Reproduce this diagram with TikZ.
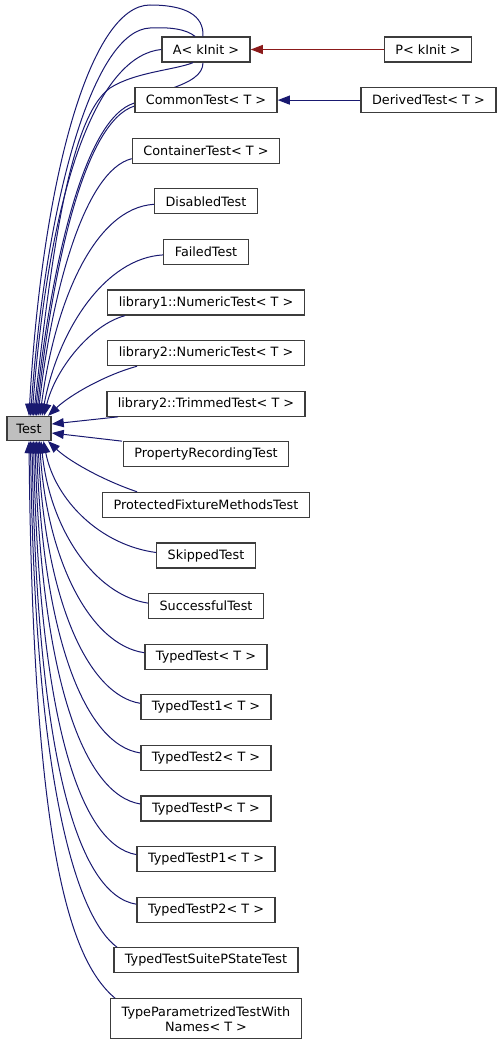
\documentclass[tikz,border=0pt]{standalone}
\usepackage{fontspec}
\setmainfont{DejaVu Sans}
\usetikzlibrary{arrows.meta,backgrounds}
\definecolor{edgeblue}{HTML}{191970}
\definecolor{edgered}{HTML}{8B1A1A}
\definecolor{boxgray}{HTML}{3C3C3C}
\definecolor{basefill}{HTML}{BFBFBF}

\begin{document}
\begin{tikzpicture}[x=1pt, y=1pt, node distance=50.6pt, block/.style={rectangle, draw=boxgray, fill=white, line width=1.3pt, minimum height=25pt, inner xsep=11pt, inner ysep=0pt, font=\fontsize{12.8}{15}\selectfont}, basenode/.style={block, fill=basefill, minimum height=24pt, inner xsep=9.5pt}, inherit/.style={draw=edgeblue, line width=1pt, -{Triangle[length=12pt, width=9pt]}}, instance/.style={inherit, draw=edgered}]
  {
  \useasboundingbox (0,0) rectangle (503,-1046);
  \node[basenode] (test) at (29,-428.5) {Test};
  \node[block] (ainit) at (206,-49.5) {A< kInit >};
  \node[block, right of=ainit, node distance=222pt] (pinit) {P< kInit >};
  \node[block, below of=ainit] (common) {CommonTest< T >};
  \node[block, right of=common, node distance=222.5pt] (derived) {DerivedTest< T >};
  \node[block, below of=common] (container) {ContainerTest< T >};
  \node[block, below of=container] (disabled) {DisabledTest};
  \node[block, below of=disabled] (failed) {FailedTest};
  \node[block, below of=failed] (numeric1) {library1::NumericTest< T >};
  \node[block, below of=numeric1] (numeric2) {library2::NumericTest< T >};
  \node[block, below of=numeric2] (trimmed) {library2::TrimmedTest< T >};
  \node[block, below of=trimmed] (recording) {PropertyRecordingTest};
  \node[block, below of=recording] (protected) {ProtectedFixtureMethodsTest};
  \node[block, below of=protected] (skipped) {SkippedTest};
  \node[block, below of=skipped] (successful) {SuccessfulTest};
  \node[block, below of=successful] (typed) {TypedTest< T >};
  \node[block, below of=typed] (typed1) {TypedTest1< T >};
  \node[block, below of=typed1] (typed2) {TypedTest2< T >};
  \node[block, below of=typed2] (typedp) {TypedTestP< T >};
  \node[block, below of=typedp] (typedp1) {TypedTestP1< T >};
  \node[block, below of=typedp1] (typedp2) {TypedTestP2< T >};
  \node[block, below of=typedp2] (suitep) {TypedTestSuitePStateTest};
  \node[block, below of=suitep, node distance=58.5pt, minimum height=40pt, align=center] (named) {TypeParametrizedTestWith\\Names< T >};

  \draw[instance] (pinit) -- (ainit);
  \draw[inherit] (derived) -- (common);

  \draw[inherit] ([xshift=-3pt]ainit.north) .. controls (204,-15) and (185,-5) .. (150,-5) .. controls (90,-5) and (42,-180) .. (test.north);
  \draw[inherit] ([xshift=-11pt]ainit.north) .. controls (186,-29) and (170,-27) .. (150,-28) .. controls (95,-30) and (47,-190) .. ([xshift=1.5pt]test.north);
  \draw[inherit] (ainit.west) .. controls (105,-55) and (52,-160) .. ([xshift=3pt]test.north);
  \draw[inherit] ([xshift=-13pt]ainit.south) .. controls (175,-70) and (135,-72) .. (110,-88) .. controls (70,-117) and (52,-250) .. ([xshift=4.5pt]test.north);
  \begin{scope}[on background layer]
  \draw[inherit] ([xshift=-3pt]ainit.south) .. controls (203,-75) and (190,-82) .. (170,-89) -- ([yshift=-3pt]common.west) .. controls (85,-118) and (52,-260) .. ([xshift=6pt]test.north);
  \end{scope}
  \draw[inherit] ([yshift=-6pt]common.west) .. controls (85,-122) and (54,-260) .. ([xshift=7.5pt]test.north);
  \draw[inherit] ([yshift=-8pt]container.west) .. controls (85,-170) and (52,-290) .. ([xshift=9pt]test.north);
  \draw[inherit] ([yshift=-3pt]disabled.west) .. controls (95,-208) and (55,-300) .. ([xshift=11pt]test.north);
  \draw[inherit] ([yshift=-3pt]failed.west) .. controls (105,-258) and (58,-330) .. ([xshift=13pt]test.north);
  \draw[inherit] ([xshift=-81pt]numeric1.south) .. controls (90,-325) and (55,-370) .. ([xshift=15pt]test.north);
  \draw[inherit] ([xshift=-69pt]numeric2.south) .. controls (105,-375) and (70,-395) .. ([xshift=19pt]test.north);
  \draw[inherit] ([xshift=-88pt]trimmed.south) -- ([yshift=4.5pt]test.east);
  \draw[inherit] ([xshift=-84pt]recording.north) -- ([yshift=-4.5pt]test.east);
  \draw[inherit] ([xshift=-69pt]protected.north) .. controls (105,-481) and (70,-462) .. ([xshift=19pt]test.south);
  \draw[inherit] ([yshift=3pt]skipped.west) .. controls (100,-545) and (55,-500) .. ([xshift=14.5pt]test.south);
  \draw[inherit] ([yshift=3pt]successful.west) .. controls (95,-595) and (50,-530) .. ([xshift=12pt]test.south);
  \draw[inherit] ([yshift=4pt]typed.west) .. controls (90,-645) and (47,-560) .. ([xshift=10.5pt]test.south);
  \draw[inherit] ([yshift=4pt]typed1.west) .. controls (88,-695) and (45,-600) .. ([xshift=9pt]test.south);
  \draw[inherit] ([yshift=5pt]typed2.west) .. controls (86,-745) and (43,-640) .. ([xshift=7.5pt]test.south);
  \draw[inherit] ([yshift=4.5pt]typedp.west) .. controls (84,-795) and (41,-680) .. ([xshift=6pt]test.south);
  \draw[inherit] ([yshift=4.5pt]typedp1.west) .. controls (80,-845) and (39,-720) .. ([xshift=4.5pt]test.south);
  \draw[inherit] ([yshift=5.5pt]typedp2.west) .. controls (78,-895) and (37,-760) .. ([xshift=3pt]test.south);
  \draw[inherit] ([xshift=-89pt]suitep.north) .. controls (80,-920) and (35,-800) .. ([xshift=1.5pt]test.south);
  \draw[inherit] ([xshift=-91pt]named.north) .. controls (70,-960) and (33,-850) .. (test.south);
}
\end{tikzpicture}
\end{document}
